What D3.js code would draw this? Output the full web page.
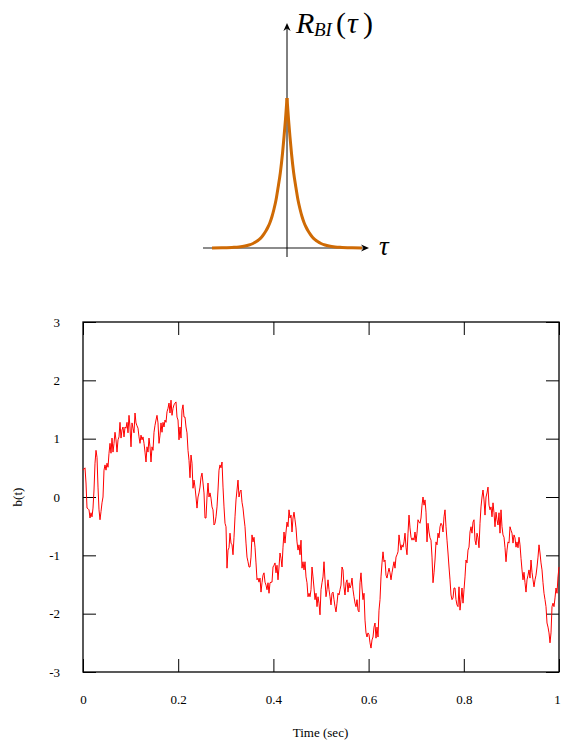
<!DOCTYPE html>
<html>
<head>
<meta charset="utf-8">
<script src="https://cdn.jsdelivr.net/npm/d3@7"></script>
<style>
  body { margin: 0; background: #fff; }
  svg { display: block; }
  .tick text { font-family: "Liberation Serif", serif; font-size: 13px; fill: #000; }
  .tick line { stroke: #000; }
</style>
</head>
<body>
<div id="chart"></div>
<script>
// autocorrelation sketch (right half, mirrored for the left half)
var tauLags = [0, 0.15, 0.3, 0.45, 0.67, 0.9, 1.1, 1.3, 1.5, 1.7, 1.9, 2.1, 2.3, 2.55, 2.8, 3.1, 3.4, 3.8, 4.2, 4.8, 5.5, 6.5, 7.5];
var rbiValues = [1, 0.86, 0.74, 0.63, 0.5, 0.4, 0.32, 0.26, 0.21, 0.17, 0.14, 0.115, 0.094, 0.072, 0.056, 0.041, 0.03, 0.02, 0.013, 0.007, 0.004, 0.001, 0];

// noise trace b(t), sampled evenly over 0..1 sec
var timeTicks = [0, 0.2, 0.4, 0.6, 0.8, 1];
var bTicks = [-3, -2, -1, 0, 1, 2, 3];
var bValues = [
  0.46, 0.48, 0.50, 0.24, -0.19, -0.20, -0.22, -0.36, -0.27, -0.34,
  -0.19, 0.12, 0.58, 0.80, 0.68, 0.17, -0.22, -0.39, -0.25, -0.10,
  0.00, 0.46, 0.55, 0.46, 0.58, 0.51, 0.75, 0.92, 0.75, 1.01,
  0.77, 0.92, 1.11, 0.98, 0.77, 0.98, 1.03, 1.28, 1.01, 1.15,
  1.20, 1.03, 1.20, 1.18, 1.28, 1.10, 1.40, 1.20, 0.86, 1.27,
  1.18, 1.10, 1.44, 1.27, 1.22, 1.18, 1.03, 0.92, 1.06, 0.98,
  1.03, 0.92, 0.77, 0.60, 0.86, 0.77, 1.01, 0.86, 0.60, 0.86,
  0.80, 1.11, 1.23, 1.32, 1.40, 1.27, 0.92, 1.06, 1.27, 1.11,
  1.28, 1.20, 1.32, 1.28, 1.46, 1.52, 1.61, 1.44, 1.66, 1.40,
  1.52, 1.58, 1.61, 1.63, 1.37, 1.32, 0.98,
  1.20, 1.01, 1.49, 1.58, 1.37, 1.37, 1.20, 1.10, 0.80, 0.63,
  0.33, 0.72, 0.58, 0.15, 0.29, 0.17, 0.00, -0.19, 0.00, 0.07,
  0.17, 0.34, 0.41, 0.24, 0.07, -0.36, -0.36, 0.00, 0.24, 0.00,
  0.07, -0.02, -0.17, -0.22, -0.48, -0.45, -0.34, -0.17, 0.12, 0.46,
  0.55, 0.50, 0.60, 0.17, -0.17, -0.45, -0.51, -1.22, -0.91, -0.87,
  -0.62, -0.79, -0.82, -0.99, -0.69, -0.34, -0.05, 0.12, 0.29, 0.00,
  0.09, 0.12, -0.09, -0.19, -0.36, -0.51, -0.79, -1.03, -1.11, -1.20,
  -1.20, -1.03, -0.65, -0.77, -0.69, -0.86, -1.13, -1.42, -1.39, -1.46,
  -1.39, -1.63, -1.47, -1.34, -1.30, -1.46, -1.51, -1.59, -1.47, -1.65,
  -1.47, -1.46, -1.46, -1.20, -1.17,
  -1.13, -1.30, -1.17, -1.42, -1.20, -0.96, -1.05, -1.20, -0.86, -0.60,
  -0.79, -0.60, -0.43, -0.51, -0.22, -0.36, -0.31, -0.60, -0.36, -0.26,
  -0.39, -0.53, -0.77, -0.91, -0.82, -0.99, -0.74, -1.22, -1.11, -1.25,
  -1.11, -1.37, -1.47, -1.71, -1.65, -1.71, -1.59, -1.20, -1.37, -1.56,
  -1.76, -1.65, -1.88, -1.71, -1.82, -2.02, -1.59, -1.47, -1.37, -1.11,
  -1.42, -1.71, -1.59, -1.42, -1.59, -1.71, -1.85, -1.65, -1.63, -1.76,
  -1.88, -1.97, -1.82, -1.65, -1.68, -1.59, -1.51, -1.20, -1.25, -1.54,
  -1.68, -1.47, -1.42, -1.63, -1.47, -1.56, -1.51, -1.39, -1.59, -1.71,
  -1.82, -1.88, -1.76, -1.94, -1.97, -1.47, -1.30, -1.56, -1.76, -1.65,
  -2.11, -2.33, -2.40, -2.33, -2.36, -2.50, -2.59, -2.45, -2.40, -2.23,
  -2.16, -2.42, -2.23, -2.40, -1.94, -1.76, -1.37, -1.13, -0.94, -1.11,
  -1.08, -1.34, -1.39, -1.30, -1.22, -1.30, -1.42, -1.30, -1.20, -1.11,
  -1.22, -1.03, -0.99, -0.94, -0.65, -0.79, -0.91, -0.82, -0.86, -0.77,
  -0.62, -0.86, -0.99, -0.62, -0.31, -0.53, -0.69, -0.74, -0.70, -0.74,
  -0.60, -0.77, -0.62, -0.39, -0.43, -0.45, -0.36, -0.14, 0.00, -0.14,
  -0.05, -0.26, -0.77, -0.45, -0.60, -0.70, -0.74, -1.03, -1.47, -1.30,
  -1.08, -0.77, -0.82, -0.62, -0.70, -0.51, -0.45, -0.48, -0.60, -0.34,
  -0.22, -0.51, -0.74, -0.96, -1.20, -1.42, -1.68, -1.76, -1.73, -1.56,
  -1.56, -1.76, -1.85, -1.88, -1.54, -1.94, -1.76, -1.56, -1.82, -1.59,
  -1.37, -1.08, -1.13, -0.91, -0.86, -0.60, -0.51, -0.62, -0.43, -0.39,
  -0.74, -0.82, -0.62, -0.70, -0.87, -0.45, -0.17, 0.00, 0.12, -0.05,
  -0.31, 0.00, 0.07, 0.17, -0.14, -0.22, -0.17, -0.34, -0.10, -0.27,
  -0.51, -0.26, -0.39, -0.48, -0.27, -0.62, -0.22, -0.51, -0.65, -0.69,
  -0.87, -1.11, -0.91, -0.77, -0.79, -0.51, -0.57, -0.62, -0.79, -0.65,
  -0.70, -0.86, -0.77, -0.87, -0.69, -0.82, -1.05, -1.25, -1.42, -1.29,
  -1.47, -1.63, -1.42, -1.34, -1.25, -1.39, -1.08, -1.29, -1.42, -1.54,
  -1.42, -1.34, -1.20, -1.03, -0.82, -0.96, -1.13, -1.25, -1.47, -1.65,
  -1.76, -1.88, -2.16, -2.23, -2.33, -2.50, -2.33, -1.88, -1.82, -1.88,
  -1.73, -1.56, -1.65, -1.37, -1.20
];

var W = 561, H = 748;
var serif = '"Liberation Serif", "Times New Roman", serif';

var svg = d3
  .select("#chart")
  .append("svg")
  .attr("width", W)
  .attr("height", H);

function arrowHead(g, x, y, angle) {
  g.append("path")
    .attr("d", "M0,0 L-8,-3.6 L-5.5,0 L-8,3.6 Z")
    .attr("transform", "translate(" + x + "," + y + ") rotate(" + angle + ")")
    .attr("fill", "#000");
}

// ---------- top sketch ----------
var tau = d3.scaleLinear().domain([-8.4, 8.2]).range([203, 369]);
var r = d3.scaleLinear().domain([0, 1]).range([248, 98]);
var sketch = svg.append("g");

sketch.append("line")
  .attr("x1", tau(-8.4)).attr("x2", tau(8.2) - 3)
  .attr("y1", r(0)).attr("y2", r(0))
  .attr("stroke", "#666").attr("stroke-width", 1.3);
arrowHead(sketch, tau(8.2), r(0), 0);

sketch.append("line")
  .attr("x1", tau(0)).attr("x2", tau(0))
  .attr("y1", r(-0.06)).attr("y2", r(1.5) + 3)
  .attr("stroke", "#000").attr("stroke-width", 1);
arrowHead(sketch, tau(0), r(1.5), -90);

var rLine = d3.line()
  .x((d) => tau(d[0]))
  .y((d) => r(d[1]))
  .curve(d3.curveMonotoneX);

var rightHalf = tauLags.map((t, i) => [t, rbiValues[i]]);
var leftHalf = tauLags.map((t, i) => [-t, rbiValues[i]]).reverse();

[leftHalf, rightHalf].forEach(function (half) {
  sketch.append("path")
    .attr("d", rLine(half))
    .attr("fill", "none")
    .attr("stroke", "#cf6a04")
    .attr("stroke-width", 3)
    .attr("stroke-linejoin", "round");
});

// R_BI(tau) label, pieces placed one by one
var labelParts = [
  { text: "R", x: 296, y: 33, size: 30, italic: true },
  { text: "BI", x: 314, y: 36, size: 19, italic: true },
  { text: "(", x: 336, y: 33, size: 30, italic: false },
  { text: "τ", x: 347, y: 33, size: 30, italic: true },
  { text: ")", x: 363, y: 33, size: 30, italic: false }
];
sketch.selectAll(".rlabel")
  .data(labelParts)
  .enter()
  .append("text")
  .attr("class", "rlabel")
  .attr("x", (d) => d.x)
  .attr("y", (d) => d.y)
  .style("font-family", serif)
  .style("font-size", (d) => d.size + "px")
  .style("font-style", (d) => (d.italic ? "italic" : "normal"))
  .text((d) => d.text);

sketch.append("text")
  .attr("x", 379).attr("y", 255)
  .style("font-family", serif)
  .style("font-size", "27px")
  .style("font-style", "italic")
  .text("τ");

// ---------- bottom plot ----------
var x = d3.scaleLinear().domain([0, 1]).range([83, 559]);
var y = d3.scaleLinear().domain([-3, 3]).range([672, 322]);
var series = bValues.map((v, i) => ({ t: i / (bValues.length - 1), b: v }));

svg.append("g")
  .attr("transform", "translate(" + x(0) + ",0)")
  .call(d3.axisLeft(y).tickValues(bTicks).tickFormat((d) => String(d)).tickSize(-13).tickPadding(23))
  .call((g) => g.select(".domain").remove());

svg.append("g")
  .attr("transform", "translate(" + x(1) + ",0)")
  .call(d3.axisRight(y).tickValues(bTicks).tickFormat("").tickSize(-13))
  .call((g) => g.select(".domain").remove());

svg.append("g")
  .attr("transform", "translate(0," + y(-3) + ")")
  .call(d3.axisBottom(x).tickValues(timeTicks).tickFormat((d) => String(d)).tickSize(-13).tickPadding(23))
  .call((g) => g.select(".domain").remove())
  // last label sits on the page edge, nudge it in
  .call((g) => g.selectAll(".tick text").filter((d) => d === 1).attr("dx", -2));

svg.append("g")
  .attr("transform", "translate(0," + y(3) + ")")
  .call(d3.axisTop(x).tickValues(timeTicks).tickFormat("").tickSize(-13))
  .call((g) => g.select(".domain").remove());

svg.append("rect")
  .attr("x", x(0)).attr("y", y(3))
  .attr("width", x(1) - x(0)).attr("height", y(-3) - y(3))
  .attr("fill", "none").attr("stroke", "#000").attr("stroke-width", 1.3);

svg.append("path")
  .datum(series)
  .attr("d", d3.line().x((d) => x(d.t)).y((d) => y(d.b)))
  .attr("fill", "none")
  .attr("stroke", "#ff0000")
  .attr("stroke-width", 1);

svg.append("text")
  .attr("x", (x(0) + x(1)) / 2 - 0.5).attr("y", 737)
  .attr("text-anchor", "middle")
  .style("font-family", serif).style("font-size", "13px")
  .text("Time (sec)");

svg.append("text")
  .attr("transform", "translate(22," + y(0) + ") rotate(-90)")
  .attr("text-anchor", "middle")
  .style("font-family", serif).style("font-size", "13px")
  .text("b(t)");
</script>
</body>
</html>
